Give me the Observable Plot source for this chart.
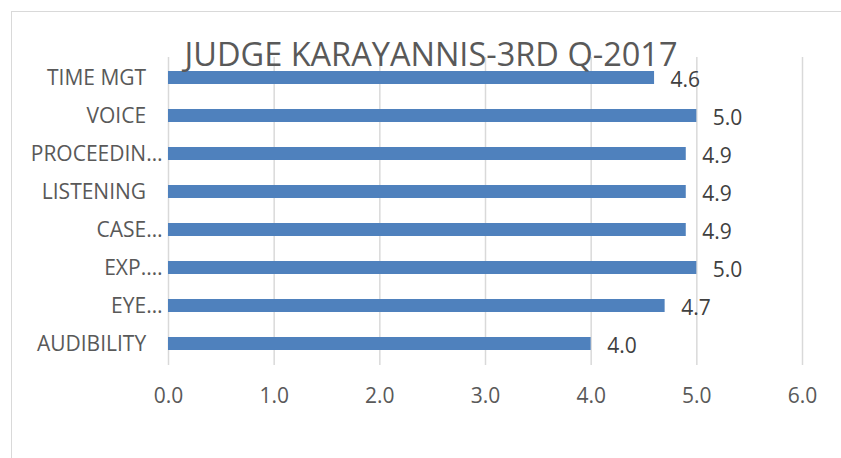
<!DOCTYPE html>
<html>
<head>
<meta charset="utf-8">
<script src="https://cdn.jsdelivr.net/npm/d3@7"></script>
<script src="https://cdn.jsdelivr.net/npm/@observablehq/plot@0.6"></script>
<style>
  html, body { margin: 0; padding: 0; background: #fff; }
  #wrap { position: relative; width: 841px; height: 458px; overflow: hidden; font-family: "Open Sans", sans-serif; }
  #frame { position: absolute; left: 11px; top: 11px; width: 900px; height: 600px; border-left: 1px solid #d9d9d9; border-top: 1px solid #d9d9d9; }
  #title { position: absolute; left: 0; top: 39px; width: 862px; text-align: center; font-size: 32.5px; line-height: 30px; color: #595959; white-space: nowrap; }
  #chart { position: absolute; left: 0; top: 0; }
</style>
</head>
<body>
<div id="wrap">
  <div id="frame"></div>
  <div id="chart"></div>
  <div id="title">JUDGE KARAYANNIS-3RD Q-2017</div>
</div>
<script>
const categories = ["TIME MGT", "VOICE", "PROCEEDIN…", "LISTENING", "CASE…", "EXP.…", "EYE…", "AUDIBILITY"];
const values = [4.6, 5.0, 4.9, 4.9, 4.9, 5.0, 4.7, 4.0];
const xTicks = [0, 1, 2, 3, 4, 5, 6];

const data = categories.map((c, i) => ({category: c, value: values[i]}));

const chart = Plot.plot({
  width: 841,
  height: 458,
  marginLeft: 168,
  marginRight: 39,
  marginTop: 57,
  marginBottom: 93,
  style: {fontFamily: "'Open Sans', sans-serif", fontSize: "21px", color: "#595959", background: "transparent"},
  x: {domain: [0, 6], ticks: xTicks, tickFormat: d3.format(".1f")},
  y: {domain: categories, paddingInner: 0.65, paddingOuter: 0.3},
  marks: [
    Plot.ruleX(xTicks, {stroke: "#d9d9d9", strokeWidth: 1.5}),
    Plot.axisX({ticks: xTicks, tickFormat: d3.format(".1f"), tickSize: 0, tickPadding: 23, fill: "#595959", fontSize: 21, label: null}),
    Plot.axisY({tickSize: 0, tickPadding: 6, fill: "#595959", fontSize: 21, label: null,
      tickFormat: d => d.endsWith("…") ? d : d + "\u00A0\u00A0\u00A0"}),
    Plot.barX(data, {x: "value", y: "category", fill: "#4f81bd"}),
    Plot.text(data, {x: "value", y: "category", text: d => d.value.toFixed(1), textAnchor: "start", dx: 16, dy: 2, fill: "#404040", fontSize: 21})
  ]
});
document.getElementById("chart").appendChild(chart);
</script>
</body>
</html>
